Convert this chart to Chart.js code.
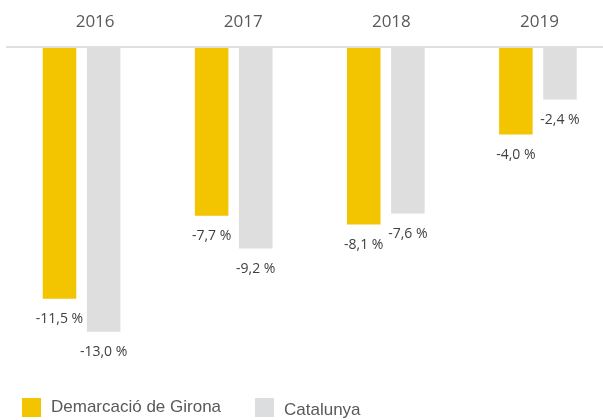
<!DOCTYPE html>
<html>
<head>
<meta charset="utf-8">
<script src="https://cdn.jsdelivr.net/npm/chart.js@4/dist/chart.umd.min.js"></script>
<style>
  html, body { margin: 0; padding: 0; background: #fff; overflow: hidden; }
  #wrap { position: absolute; left: 0; top: 0; width: 614px; height: 420px; }
  .lg { position: absolute; font-family: "Liberation Sans", Arial, sans-serif; font-size: 17px; line-height: 20px; color: #595959; white-space: nowrap; }
  .box { position: absolute; width: 19px; height: 19px; }
</style>
</head>
<body>
<div id="wrap"><canvas id="chart" width="614" height="420"></canvas></div>
<div class="box" style="left:22px;top:398px;background:#F2C500"></div>
<div class="lg" style="left:51px;top:397px">Demarcació de Girona</div>
<div class="box" style="left:255px;top:398px;background:#DCDDDF"></div>
<div class="lg" style="left:284px;top:400px">Catalunya</div>
<script>
// values
const years = ['2016', '2017', '2018', '2019'];
const girona = [-11.5, -7.7, -8.1, -4.0];
const catalunya = [-13.0, -9.2, -7.6, -2.4];

// value labels under each bar, "-11,5 %" style
const valueLabels = {
    id: 'valueLabels',
    afterDatasetsDraw(chart) {
        const ctx = chart.ctx;
        ctx.save();
        ctx.font = '14px "Open Sans", sans-serif';
        ctx.fillStyle = '#404040';
        ctx.textAlign = 'center';
        ctx.textBaseline = 'middle';
        chart.data.datasets.forEach((ds, i) => {
            chart.getDatasetMeta(i).data.forEach((bar, j) => {
                const txt = ds.data[j].toFixed(1).replace('.', ',') + ' %';
                ctx.fillText(txt, bar.x, bar.y + 20.5);
            });
        });
        ctx.restore();
    }
};

new Chart(document.getElementById('chart'), {
    type: 'bar',
    data: {
        labels: years,
        datasets: [
            { label: 'Demarcació de Girona', data: girona, backgroundColor: '#F2C500' },
            { label: 'Catalunya', data: catalunya, backgroundColor: '#DEDEDE' }
        ]
    },
    options: {
        responsive: false,
        animation: false,
        layout: { padding: { left: 5.5, right: 0, top: 2, bottom: 44.5 } },
        categoryPercentage: 0.58,
        barPercentage: 0.76,
        plugins: { legend: { display: false }, tooltip: { enabled: false } },
        scales: {
            x: { display: false },
            // year labels sit on their own axis, spaced a bit tighter than the bars
            xTop: {
                type: 'linear',
                position: 'top',
                offset: false,
                min: -0.605,
                max: 3.503,
                afterBuildTicks: s => { s.ticks = years.map((y, i) => ({ value: i })); },
                grid: { display: false, drawTicks: true, tickLength: 5 },
                border: { display: false },
                ticks: {
                    autoSkip: false,
                    maxRotation: 0,
                    padding: 9.8,
                    color: '#595959',
                    font: { family: '"Open Sans", sans-serif', size: 17 },
                    callback: v => years[v]
                }
            },
            y: {
                min: -15,
                max: 0,
                ticks: { display: false, stepSize: 1 },
                border: { display: false },
                grid: {
                    drawTicks: false,
                    lineWidth: 2,
                    color: c => c.tick.value === 0 ? '#E0E0E0' : 'rgba(0,0,0,0)'
                }
            }
        }
    },
    plugins: [valueLabels]
});
</script>
</body>
</html>
